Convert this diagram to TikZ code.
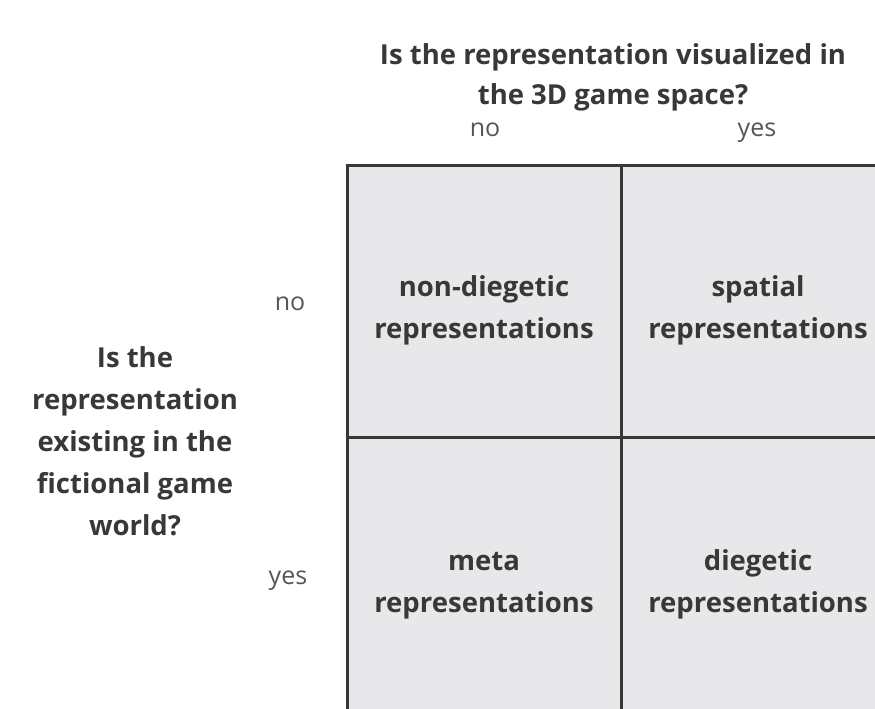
\documentclass[tikz,border=0pt]{standalone}
\usepackage{fontspec}
\setmainfont{Open Sans}
\usepackage{xcolor}
\usepackage{tikz}
\usetikzlibrary{positioning}
\definecolor{cellgray}{HTML}{E8E8EA}
\definecolor{inkgray}{HTML}{383838}
\tikzset{cell/.style={rectangle,fill=cellgray,draw=inkgray,line width=3pt,minimum width=274pt,inner sep=0pt},
         cell text/.style={align=center,font=\fontsize{27.5}{42}\selectfont\bfseries,text=inkgray,yshift=-9pt},
         axis label/.style={anchor=base,font=\fontsize{25}{30}\selectfont,text=inkgray!85},
         question/.style={align=center,font=\fontsize{27.5}{42}\selectfont\bfseries,text=inkgray},}

\begin{document}
\begin{tikzpicture}[x=1pt,y=-1pt]
       \clip (0,0) rectangle (875,709);
       \fill[white] (0,0) rectangle (875,709);

       % the four cells (right column and bottom row run off the page)
       \node[cell,minimum height=272pt] (nd) at (484,301) {};
       \node[cell,minimum height=272pt] (sp) at (758,301) {};
       \node[cell,minimum height=286pt] (me) at (484,580) {};
       \node[cell,minimum height=286pt] (dg) at (758,580) {};
       \node[cell text] (ndt) at (nd) {non-diegetic\\representations};
       \node[cell text] (spt) at (sp) {spatial\\representations};
       \node[cell text,yshift=3pt] (met) at (me) {meta\\representations};
       \node[cell text,yshift=5pt] (dgt) at (dg) {diegetic\\representations};

       % column labels
       \node[axis label] (cno) at (485,136) {no};
       \node[axis label] (cyes) at (757,136) {yes};
       \node[question,font=\fontsize{27.5}{40}\selectfont\bfseries] (qtop) at (613,77) {Is the representation visualized in\\the 3D game space?};

       % row labels
       \node[axis label] (rno) at (290,310) {no};
       \node[axis label] (ryes) at (288,584) {yes};
       \node[question] (qleft) at (135,441) {Is the\\representation\\existing in the\\fictional game\\world?};
\end{tikzpicture}
\end{document}
